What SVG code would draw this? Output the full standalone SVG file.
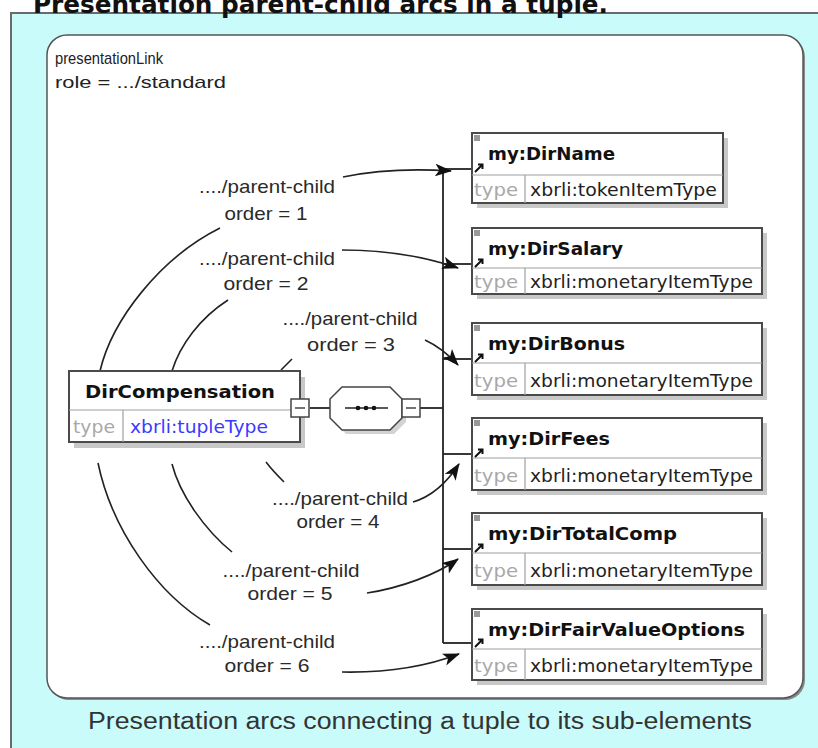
<svg xmlns="http://www.w3.org/2000/svg" width="818" height="748" viewBox="0 0 818 748">
<style>
.sans{font-family:"Liberation Sans",Arial,sans-serif}
.lbl{font-family:"Liberation Sans",Arial,sans-serif;font-size:19px;fill:#2a2a2a}
.hd{font-family:"DejaVu Sans",Verdana,sans-serif;font-weight:bold;font-size:18px;fill:#111}
.ty{font-family:"DejaVu Sans",Verdana,sans-serif;font-size:17px;fill:#a8a8a8}
.tv{font-family:"DejaVu Sans",Verdana,sans-serif;font-size:17px;fill:#222}
.box{fill:#fff;stroke:#4a4a4a;stroke-width:2}
.shd{fill:#9a9a9a;opacity:.55}
.div{stroke:#a0a0a0;stroke-width:1.2}
.arc{fill:none;stroke:#222;stroke-width:1.6}
.tree{fill:none;stroke:#222;stroke-width:1.8}
.ic{fill:#999}
</style>
<defs>
<marker id="ah" viewBox="0 0 16 12" refX="15" refY="6" markerWidth="17" markerHeight="13" orient="auto" markerUnits="userSpaceOnUse">
<path d="M0,0 L16,6 L0,12 L4,6 z" fill="#111"/>
</marker>
</defs>

<!-- outer frame -->
<rect x="11" y="13" width="830" height="760" fill="#cafbfb" stroke="#6a6a6a" stroke-width="2"/>
<rect x="49" y="37" width="756" height="663" rx="20" fill="#8a8a8a"/>
<rect x="47" y="35" width="756" height="663" rx="20" fill="#fff" stroke="#555" stroke-width="1.5"/>

<!-- title (cropped at the top, as in the picture) -->
<text x="33" y="13" font-family="DejaVu Sans,Verdana,sans-serif" font-weight="bold" font-size="24" fill="#111" textLength="575" lengthAdjust="spacingAndGlyphs">Presentation parent-child arcs in a tuple.</text>

<text x="55" y="64" class="sans" font-size="17" fill="#222" textLength="108" lengthAdjust="spacingAndGlyphs">presentationLink</text>
<text x="55" y="88" class="sans" font-size="17" fill="#222" textLength="171" lengthAdjust="spacingAndGlyphs">role = .../standard</text>

<text x="420" y="729" class="sans" font-size="23" fill="#333" text-anchor="middle" textLength="664" lengthAdjust="spacingAndGlyphs">Presentation arcs connecting a tuple to its sub-elements</text>

<!-- connectors -->
<g id="connectors">
<line class="tree" x1="310" y1="408" x2="330" y2="408"/>
<line class="tree" x1="420" y1="408" x2="443" y2="408"/>
<line class="tree" x1="443" y1="169" x2="443" y2="643"/>
<line class="tree" x1="443" y1="169" x2="474" y2="169"/>
<line class="tree" x1="443" y1="264" x2="474" y2="264"/>
<line class="tree" x1="443" y1="359" x2="474" y2="359"/>
<line class="tree" x1="443" y1="454" x2="474" y2="454"/>
<line class="tree" x1="443" y1="549" x2="474" y2="549"/>
<line class="tree" x1="443" y1="643" x2="474" y2="643"/>

<path class="arc" d="M100,371 C112,320 160,258 220,228"/>
<path class="arc" d="M343,177 C372,171 405,168 451,171" marker-end="url(#ah)"/>
<path class="arc" d="M172,371 C180,345 200,318 228,300"/>
<path class="arc" d="M342,250 C380,250 420,255 458,268" marker-end="url(#ah)"/>
<path class="arc" d="M281,370 L292,359"/>
<path class="arc" d="M425,340 C438,346 448,354 458,365" marker-end="url(#ah)"/>
<path class="arc" d="M266,462 C272,470 278,476 284,482"/>
<path class="arc" d="M413,502 C430,497 446,484 459,464" marker-end="url(#ah)"/>
<path class="arc" d="M172,464 C180,495 205,530 232,552"/>
<path class="arc" d="M367,593 C400,588 436,575 458,559" marker-end="url(#ah)"/>
<path class="arc" d="M98,463 C112,530 158,595 210,625"/>
<path class="arc" d="M342,672 C390,673 430,665 459,654" marker-end="url(#ah)"/>
</g>

<!-- arc labels -->
<g id="labels">
<text class="lbl" x="267" y="193" text-anchor="middle" textLength="136" lengthAdjust="spacingAndGlyphs">..../parent-child</text>
<text class="lbl" x="266" y="220" text-anchor="middle" textLength="83" lengthAdjust="spacingAndGlyphs">order = 1</text>
<text class="lbl" x="267" y="265" text-anchor="middle" textLength="136" lengthAdjust="spacingAndGlyphs">..../parent-child</text>
<text class="lbl" x="266" y="290" text-anchor="middle" textLength="85" lengthAdjust="spacingAndGlyphs">order = 2</text>
<text class="lbl" x="350" y="325" text-anchor="middle" textLength="135" lengthAdjust="spacingAndGlyphs">..../parent-child</text>
<text class="lbl" x="351" y="351" text-anchor="middle" textLength="88" lengthAdjust="spacingAndGlyphs">order = 3</text>
<text class="lbl" x="340" y="505" text-anchor="middle" textLength="136" lengthAdjust="spacingAndGlyphs">..../parent-child</text>
<text class="lbl" x="338" y="528" text-anchor="middle" textLength="83" lengthAdjust="spacingAndGlyphs">order = 4</text>
<text class="lbl" x="291" y="577" text-anchor="middle" textLength="137" lengthAdjust="spacingAndGlyphs">..../parent-child</text>
<text class="lbl" x="290" y="600" text-anchor="middle" textLength="85" lengthAdjust="spacingAndGlyphs">order = 5</text>
<text class="lbl" x="267" y="648" text-anchor="middle" textLength="136" lengthAdjust="spacingAndGlyphs">..../parent-child</text>
<text class="lbl" x="267" y="672" text-anchor="middle" textLength="85" lengthAdjust="spacingAndGlyphs">order = 6</text>
</g>

<!-- parent tuple -->
<g id="n-dircompensation">
<rect class="shd" x="74" y="377" width="231" height="71"/>
<rect class="box" x="69" y="371" width="231" height="71"/>
<line class="div" x1="69" y1="410" x2="300" y2="410"/>
<line class="div" x1="123" y1="410" x2="123" y2="442"/>
<text class="hd" x="180" y="398" text-anchor="middle" textLength="190" lengthAdjust="spacingAndGlyphs">DirCompensation</text>
<text class="ty" x="73" y="433" textLength="42" lengthAdjust="spacingAndGlyphs">type</text>
<text class="tv" x="130" y="433" style="fill:#3a3aff" textLength="138" lengthAdjust="spacingAndGlyphs">xbrli:tupleType</text>
<rect x="291" y="399" width="18" height="18" fill="#fff" stroke="#444" stroke-width="1.5"/>
<line x1="295" y1="408" x2="305" y2="408" stroke="#444" stroke-width="1.5"/>
</g>

<!-- sequence compositor -->
<g id="n-sequence">
<path d="M346,391 H394 L406,403 V422 L394,434 H346 L334,422 V403 Z" fill="#a8a8a8" opacity=".5"/>
<path d="M342,387 H390 L402,399 V418 L390,430 H342 L330,418 V399 Z" fill="#fff" stroke="#444" stroke-width="1.5"/>
<line x1="345" y1="408" x2="388" y2="408" stroke="#222" stroke-width="1.5"/>
<circle cx="358" cy="408" r="2.3" fill="#111"/>
<circle cx="366" cy="408" r="2.3" fill="#111"/>
<circle cx="374" cy="408" r="2.3" fill="#111"/>
<rect x="402" y="399" width="18" height="18" fill="#fff" stroke="#444" stroke-width="1.5"/>
<line x1="406" y1="408" x2="416" y2="408" stroke="#444" stroke-width="1.5"/>
</g>

<!-- child elements -->
<g id="n-dirname">
<rect class="shd" x="477" y="138" width="251" height="70"/>
<rect class="box" x="472" y="133" width="251" height="70"/>
<line class="div" x1="472" y1="175" x2="723" y2="175"/>
<line class="div" x1="525" y1="175" x2="525" y2="203"/>
<rect class="ic" x="474" y="135" width="6" height="6"/>
<path d="M475,172 L482,165 M478,164.5 H482.5 V169" stroke="#111" stroke-width="2" fill="none"/>
<text class="hd" x="488" y="160" textLength="127" lengthAdjust="spacingAndGlyphs">my:DirName</text>
<text class="ty" x="474" y="196" textLength="44" lengthAdjust="spacingAndGlyphs">type</text>
<text class="tv" x="530" y="196" textLength="187" lengthAdjust="spacingAndGlyphs">xbrli:tokenItemType</text>
</g>

<g id="n-dirsalary">
<rect class="shd" x="477" y="233" width="290" height="66"/>
<rect class="box" x="472" y="228" width="290" height="66"/>
<line class="div" x1="472" y1="268" x2="762" y2="268"/>
<line class="div" x1="525" y1="268" x2="525" y2="294"/>
<rect class="ic" x="474" y="230" width="6" height="6"/>
<path d="M475,267 L482,260 M478,259.5 H482.5 V264" stroke="#111" stroke-width="2" fill="none"/>
<text class="hd" x="488" y="255" textLength="135" lengthAdjust="spacingAndGlyphs">my:DirSalary</text>
<text class="ty" x="474" y="288" textLength="44" lengthAdjust="spacingAndGlyphs">type</text>
<text class="tv" x="530" y="288" textLength="223" lengthAdjust="spacingAndGlyphs">xbrli:monetaryItemType</text>
</g>

<g id="n-dirbonus">
<rect class="shd" x="477" y="328" width="290" height="72"/>
<rect class="box" x="472" y="323" width="290" height="72"/>
<line class="div" x1="472" y1="363" x2="762" y2="363"/>
<line class="div" x1="525" y1="363" x2="525" y2="395"/>
<rect class="ic" x="474" y="325" width="6" height="6"/>
<path d="M475,362 L482,355 M478,354.5 H482.5 V359" stroke="#111" stroke-width="2" fill="none"/>
<text class="hd" x="488" y="350" textLength="137" lengthAdjust="spacingAndGlyphs">my:DirBonus</text>
<text class="ty" x="474" y="387" textLength="44" lengthAdjust="spacingAndGlyphs">type</text>
<text class="tv" x="530" y="387" textLength="223" lengthAdjust="spacingAndGlyphs">xbrli:monetaryItemType</text>
</g>

<g id="n-dirfees">
<rect class="shd" x="477" y="423" width="290" height="72"/>
<rect class="box" x="472" y="418" width="290" height="72"/>
<line class="div" x1="472" y1="458" x2="762" y2="458"/>
<line class="div" x1="525" y1="458" x2="525" y2="490"/>
<rect class="ic" x="474" y="420" width="6" height="6"/>
<path d="M475,457 L482,450 M478,449.5 H482.5 V454" stroke="#111" stroke-width="2" fill="none"/>
<text class="hd" x="488" y="445" textLength="122" lengthAdjust="spacingAndGlyphs">my:DirFees</text>
<text class="ty" x="474" y="482" textLength="44" lengthAdjust="spacingAndGlyphs">type</text>
<text class="tv" x="530" y="482" textLength="223" lengthAdjust="spacingAndGlyphs">xbrli:monetaryItemType</text>
</g>

<g id="n-dirtotalcomp">
<rect class="shd" x="477" y="518" width="290" height="72"/>
<rect class="box" x="472" y="513" width="290" height="72"/>
<line class="div" x1="472" y1="553" x2="762" y2="553"/>
<line class="div" x1="525" y1="553" x2="525" y2="585"/>
<rect class="ic" x="474" y="515" width="6" height="6"/>
<path d="M475,552 L482,545 M478,544.5 H482.5 V549" stroke="#111" stroke-width="2" fill="none"/>
<text class="hd" x="488" y="540" textLength="189" lengthAdjust="spacingAndGlyphs">my:DirTotalComp</text>
<text class="ty" x="474" y="577" textLength="44" lengthAdjust="spacingAndGlyphs">type</text>
<text class="tv" x="530" y="577" textLength="223" lengthAdjust="spacingAndGlyphs">xbrli:monetaryItemType</text>
</g>

<g id="n-dirfairvalueoptions">
<rect class="shd" x="477" y="614" width="290" height="71"/>
<rect class="box" x="472" y="609" width="290" height="71"/>
<line class="div" x1="472" y1="649" x2="762" y2="649"/>
<line class="div" x1="525" y1="649" x2="525" y2="680"/>
<rect class="ic" x="474" y="611" width="6" height="6"/>
<path d="M475,647 L482,640 M478,639.5 H482.5 V644" stroke="#111" stroke-width="2" fill="none"/>
<text class="hd" x="488" y="636" textLength="257" lengthAdjust="spacingAndGlyphs">my:DirFairValueOptions</text>
<text class="ty" x="474" y="672" textLength="44" lengthAdjust="spacingAndGlyphs">type</text>
<text class="tv" x="530" y="672" textLength="223" lengthAdjust="spacingAndGlyphs">xbrli:monetaryItemType</text>
</g>
</svg>
